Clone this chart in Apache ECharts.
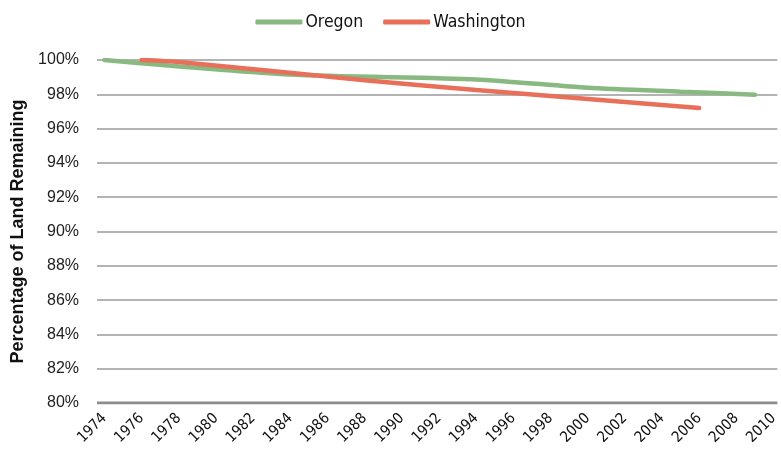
<!DOCTYPE html>
<html><head><meta charset="utf-8">
<script src="https://cdn.jsdelivr.net/npm/echarts@6/dist/echarts.min.js"></script>
<style>html,body{margin:0;padding:0;background:#fff}#c{width:781px;height:459px}</style>
</head><body><div id="c"></div>
<script>
const oregonYears = [1974, 1984, 1994, 2000, 2005, 2009];
const oregonValues = [100, 99.15, 98.87, 98.38, 98.15, 97.98];
const washingtonYears = [1976, 1978, 1988, 1994, 2006];
const washingtonValues = [100, 99.88, 98.82, 98.25, 97.2];
const xTickLabels = [1974,1976,1978,1980,1982,1984,1986,1988,1990,1992,1994,1996,1998,2000,2002,2004,2006,2008,2010];
const yMin = 80, yMax = 100, yStep = 2;

const chart = echarts.init(document.getElementById('c'), null, {renderer: 'canvas'});
chart.setOption({
  animation: false,
  legend: {
    top: 8, left: 'center',
    itemWidth: 47, itemHeight: 5, itemGap: 20,
    icon: 'roundRect',
    textStyle: {fontFamily: 'DejaVu Sans Condensed', fontSize: 17.5, color: '#111', padding: [0, 0, 0, -2]},
    data: ['Oregon', 'Washington']
  },
  grid: {left: 97, right: 0, top: 60, bottom: 56},
  xAxis: {
    type: 'value', min: 1973.6, max: 2010.2,
    axisLine: {show: false},
    axisTick: {show: false},
    splitLine: {show: false},
    axisLabel: {
      customValues: xTickLabels,
      rotate: 45, margin: 13,
      fontFamily: 'DejaVu Sans Condensed', fontSize: 15, color: '#111',
      formatter: v => String(v)
    }
  },
  yAxis: {
    type: 'value', min: yMin, max: yMax, interval: yStep,
    name: 'Percentage of Land Remaining',
    nameLocation: 'middle', nameGap: 68,
    nameTextStyle: {fontFamily: 'Liberation Sans', fontSize: 18, fontWeight: 'bold', color: '#111'},
    axisLine: {show: false}, axisTick: {show: false},
    axisLabel: {formatter: '{value}%', margin: 18, fontFamily: 'Liberation Sans', fontSize: 16, color: '#222'},
    splitLine: {lineStyle: {color: '#9a9a9a', width: 1.6}}
  },
  series: [
    {
      name: 'Oregon', type: 'line', smooth: 0.25, symbol: 'none',
      data: oregonYears.map((y, i) => [y, oregonValues[i]]),
      lineStyle: {color: '#87b980', width: 4.5, cap: 'round'},
      itemStyle: {color: '#87b980'}
    },
    {
      name: 'Washington', type: 'line', smooth: 0.25, symbol: 'none',
      data: washingtonYears.map((y, i) => [y, washingtonValues[i]]),
      lineStyle: {color: '#e8705a', width: 4.5, cap: 'round'},
      itemStyle: {color: '#e8705a'}
    },
    {
      type: 'line', symbol: 'none', silent: true, legendHoverLink: false,
      data: [[1973.6, yMin], [2010.2, yMin]],
      lineStyle: {color: '#8c8c8c', width: 3}, z: 1
    }
  ]
});
</script></body></html>
